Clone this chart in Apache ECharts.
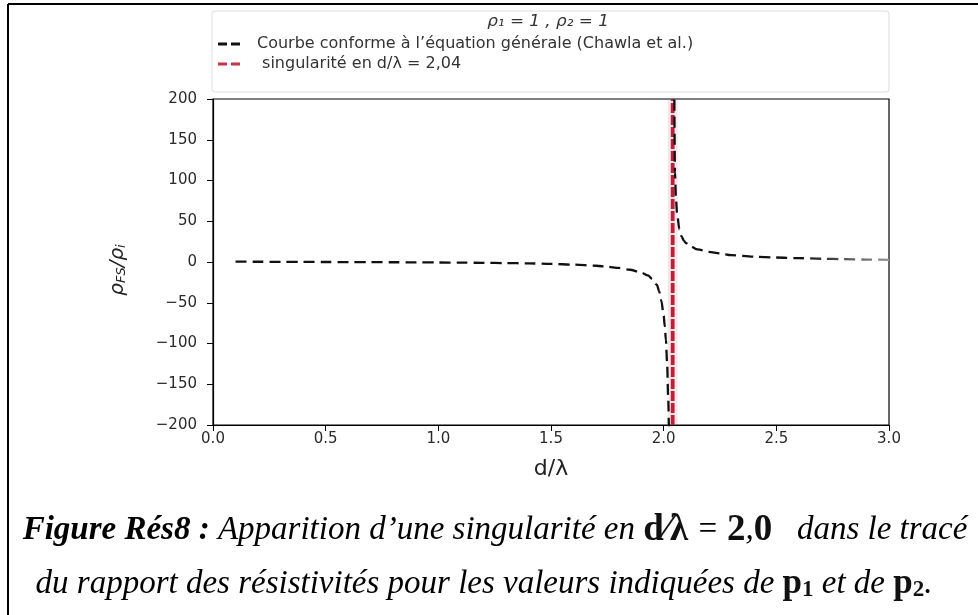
<!DOCTYPE html>
<html>
<head>
<meta charset="utf-8">
<script src="https://cdn.jsdelivr.net/npm/echarts@6/dist/echarts.min.js"></script>
<style>
  html, body { margin: 0; padding: 0; background: #fff; }
  #chart { width: 978px; height: 615px; }
</style>
</head>
<body>
<div id="chart"></div>
<script>
// Resistivity ratio rho_FS / rho_i versus d/lambda (p1 = 1, p2 = 1)
const curveLeftX = [0.1, 0.2, 0.3, 0.4, 0.5, 0.6, 0.7, 0.8, 0.9, 1.0, 1.1, 1.2, 1.3, 1.4, 1.5,
  1.6, 1.7, 1.75, 1.8, 1.85, 1.9, 1.93, 1.95, 1.97, 1.98, 1.99, 2.0, 2.005, 2.01, 2.015, 2.02, 2.025];
const curveLeftY = [0.4, 0.3, 0.2, 0.1, 0.0, -0.1, -0.2, -0.3, -0.4, -0.6, -0.8, -1.0, -1.3, -1.7, -2.3,
  -3.2, -4.6, -5.8, -7.3, -9.5, -13, -16.5, -21, -28, -36, -48, -66, -79, -96, -122, -165, -240];
const curveRightX = [2.047, 2.05, 2.055, 2.06, 2.07, 2.08, 2.09, 2.1, 2.12, 2.15, 2.2, 2.25, 2.3,
  2.4, 2.5, 2.6, 2.7, 2.8, 2.9, 3.0];
const curveRightY = [220, 110, 75, 58, 40, 31, 26, 23, 19, 15.5, 12.5, 10.5, 8.5,
  6.5, 5.5, 4.7, 4.0, 3.5, 3.0, 2.6];
const singularityX = [2.04, 2.04];
const singularityY = [-200, 200];

const xTicks = [0.0, 0.5, 1.0, 1.5, 2.0, 2.5, 3.0];
const yTicks = [-200, -150, -100, -50, 0, 50, 100, 150, 200];

const curveName = 'Courbe conforme à l’équation générale (Chawla et al.)';
const singName = ' singularité en d/λ = 2,04';
const legendTitle = 'ρ₁ = 1 , ρ₂ = 1';

const curveData = curveLeftX.map((x, i) => [x, curveLeftY[i]])
  .concat([[2.035, null]])
  .concat(curveRightX.map((x, i) => [x, curveRightY[i]]));
const singData = singularityX.map((x, i) => [x, singularityY[i]]);

const chart = echarts.init(document.getElementById('chart'), null, { renderer: 'canvas' });

const tickFont = { fontFamily: 'DejaVu Sans', fontSize: 15, color: '#2a2a2a' };
const dashIcon = 'path://M0,0H9V3H0Z M13,0H22V3H13Z';

chart.setOption({
  backgroundColor: '#ffffff',
  animation: false,
  grid: { left: 213, right: 89, top: 99, bottom: 190, show: true, borderColor: '#000', borderWidth: 1.2, backgroundColor: 'transparent' },
  legend: {
    orient: 'vertical', left: 213, top: 31, itemGap: 4, padding: 5,
    itemWidth: 22, itemHeight: 3, icon: dashIcon,
    textStyle: { fontFamily: 'DejaVu Sans', fontSize: 16, color: '#333', padding: [0, 0, 0, 12] },
    data: [
      { name: curveName, itemStyle: { color: '#111' } },
      { name: singName, itemStyle: { color: '#c8304a' } }
    ]
  },
  xAxis: {
    type: 'value', min: 0, max: 3, interval: 0.5,
    axisLine: { show: true, onZero: false, lineStyle: { color: '#000', width: 1.2 } },
    axisTick: { show: true, inside: false, length: 6, lineStyle: { color: '#000' } },
    axisLabel: Object.assign({ margin: 7, formatter: v => xTicks.includes(v) ? v.toFixed(1) : '' }, tickFont),
    splitLine: { show: false },
    name: 'd/λ', nameLocation: 'middle', nameGap: 33,
    nameTextStyle: { fontFamily: 'DejaVu Sans', fontSize: 22, color: '#222' }
  },
  yAxis: {
    type: 'value', min: -200, max: 200, interval: 50,
    axisLine: { show: true, onZero: false, lineStyle: { color: '#000', width: 1.2 } },
    axisTick: { show: true, inside: false, length: 6, lineStyle: { color: '#000' } },
    axisLabel: Object.assign({ margin: 16, formatter: v => yTicks.includes(v) ? String(v).replace('-', '−') : '' }, tickFont),
    splitLine: { show: false }
  },
  graphic: [
    // outer frame (top and left rules)
    { type: 'line', shape: { x1: 8, y1: 4, x2: 978, y2: 4 }, style: { stroke: '#000', lineWidth: 2 } },
    { type: 'line', shape: { x1: 8, y1: 4, x2: 8, y2: 615 }, style: { stroke: '#000', lineWidth: 2 } },
    // legend frame
    { type: 'rect', z: -1, shape: { x: 212, y: 11, width: 677, height: 81, r: 3 },
      style: { fill: '#fff', stroke: '#dddddd', lineWidth: 1 } },
    { type: 'text', x: 548, y: 22, scaleX: 1.12,
      style: { text: legendTitle, fontFamily: 'DejaVu Sans', fontStyle: 'italic', fontSize: 15, fill: '#333', align: 'center', verticalAlign: 'middle' } },
    // y axis title
    { type: 'text', x: 118, y: 270, rotation: Math.PI / 2,
      style: {
        text: '{r|ρ}{s|FS}{r|/ρ}{s|i}', align: 'center', verticalAlign: 'middle',
        rich: {
          r: { fontFamily: 'DejaVu Sans', fontStyle: 'italic', fontSize: 20, fill: '#222', verticalAlign: 'middle' },
          s: { fontFamily: 'DejaVu Sans', fontStyle: 'italic', fontSize: 13, fill: '#222', verticalAlign: 'bottom' }
        }
      } },
    // caption
    { type: 'text', x: 495, y: 530,
      style: {
        text: '{bi|Figure Rés8 :}{i| Apparition d’une singularité en }{b|d⁄λ}{i| = }{b|2}{i|,}{b|0}{i|   dans le tracé}',
        align: 'center', verticalAlign: 'middle',
        rich: {
          bi: { fontFamily: 'Liberation Serif', fontStyle: 'italic', fontWeight: 'bold', fontSize: 33, fill: '#000' },
          i: { fontFamily: 'Liberation Serif', fontStyle: 'italic', fontSize: 33, fill: '#000' },
          b: { fontFamily: 'Liberation Serif', fontWeight: 'bold', fontSize: 37, fill: '#111' }
        }
      } },
    { type: 'text', x: 484, y: 584,
      style: {
        text: '{i|du rapport des résistivités pour les valeurs indiquées de }{b|p}{s|1}{i| et de }{b|p}{s|2}{i|.}',
        align: 'center', verticalAlign: 'middle',
        rich: {
          i: { fontFamily: 'Liberation Serif', fontStyle: 'italic', fontSize: 33, fill: '#000' },
          b: { fontFamily: 'Liberation Serif', fontWeight: 'bold', fontSize: 35, fill: '#111' },
          s: { fontFamily: 'Liberation Serif', fontWeight: 'bold', fontSize: 23, fill: '#111', verticalAlign: 'bottom' }
        }
      } }
  ],
  series: [
    {
      name: 'halo', type: 'line', data: singData, symbol: 'none', silent: true, z: 1,
      lineStyle: { color: 'rgba(225,90,120,0.15)', width: 10 }
    },
    {
      name: singName, type: 'line', data: singData, symbol: 'none', z: 2,
      lineStyle: { color: '#bd2139', width: 3.8, type: [10, 2] }
    },
    {
      name: curveName, type: 'line', data: curveData, symbol: 'none', connectNulls: false, z: 3,
      smooth: 0.3, smoothMonotone: 'x',
      lineStyle: {
        width: 2.3, type: [11, 6],
        color: new echarts.graphic.LinearGradient(0, 0, 1, 0, [
          { offset: 0, color: '#111' }, { offset: 0.86, color: '#111' }, { offset: 1, color: '#9a9a9a' }
        ])
      }
    }
  ]
});
</script>
</body>
</html>
